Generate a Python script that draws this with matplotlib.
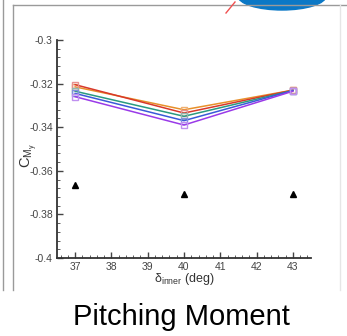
import matplotlib.pyplot as plt
from matplotlib.lines import Line2D
from matplotlib.patches import Ellipse
from matplotlib.ticker import MultipleLocator

# ── Data ─────────────────────────────────────────────────────────────
delta_inner = [37, 40, 43]
cm_orange = [-0.3215, -0.3320, -0.3230]
cm_red = [-0.3205, -0.3335, -0.3230]
cm_green = [-0.3235, -0.3350, -0.3232]
cm_blue = [-0.3245, -0.3370, -0.3232]
cm_purple = [-0.3260, -0.3390, -0.3235]
cm_ref = [-0.3665, -0.3705, -0.3705]

series = [
    (cm_orange, "#e8902a", "#f0b070"),
    (cm_red, "#d8382a", "#e89090"),
    (cm_green, "#2a9a80", "#90b8b0"),
    (cm_blue, "#3a5ad8", "#8090e0"),
    (cm_purple, "#9a3ae8", "#c090f0"),
]

plt.rcParams["font.family"] = ["Liberation Sans", "DejaVu Sans"]

W, H = 347, 336
fig = plt.figure(figsize=(W / 100, H / 100), dpi=100)
fig.patch.set_facecolor("white")

# ── Slide decorations (frame, blue blob) ─────────────────────────────
def fx(px):
    return px / W

def fy(py):
    return 1 - py / H

frame_col = "#9a9a9a"
fig.add_artist(Line2D([fx(3), fx(3)], [fy(0), fy(290)], color=frame_col, lw=1))
fig.add_artist(Line2D([fx(13), fx(13)], [fy(5), fy(290)], color=frame_col, lw=1))
fig.add_artist(Line2D([fx(13), fx(347)], [fy(5), fy(5)], color=frame_col, lw=1))
fig.add_artist(Line2D([fx(340), fx(340)], [fy(5), fy(290)], color="#e6e6e6", lw=1))
fig.add_artist(Ellipse((fx(282), fy(-4)), fx(88), 28 / H, color="#0b78c6",
                       transform=fig.transFigure))
fig.add_artist(Line2D([fx(226), fx(235)], [fy(13), fy(2)], color="#f05050", lw=1))

# ── Plot ─────────────────────────────────────────────────────────────
ax = fig.add_axes([57 / W, 1 - 258 / H, (311 - 57) / W, (258 - 40) / H])

for vals, line_col, mark_col in series:
    ax.plot(delta_inner, vals, color=line_col, lw=1.1, marker="s", ms=5,
            mfc="none", mec=mark_col, mew=1)
ax.plot(delta_inner, cm_ref, ls="none", marker="^", ms=5, color="black")

ax.set_xlim(36.5, 43.5)
ax.set_ylim(-0.4, -0.3)
ax.xaxis.set_major_locator(MultipleLocator(1))
ax.xaxis.set_minor_locator(MultipleLocator(0.2))
ax.yaxis.set_minor_locator(MultipleLocator(0.004))
ax.set_yticks([-0.4, -0.38, -0.36, -0.34, -0.32, -0.3])
ax.set_yticklabels(["-0.4", "-0.38", "-0.36", "-0.34", "-0.32", "-0.3"])

for side in ["top", "right"]:
    ax.spines[side].set_visible(False)
for side in ["left", "bottom"]:
    ax.spines[side].set_color("#333333")
    ax.spines[side].set_linewidth(1.3)

ax.tick_params(which="both", direction="in", colors="#444444", labelsize=7.5, pad=3)
ax.tick_params(which="major", length=4, width=1)
ax.tick_params(which="minor", length=2, width=0.6)

ax.set_xlabel(r"$\mathregular{\delta_{inner}}$ (deg)", fontsize=9, color="#333333", labelpad=-1)
ax.set_ylabel(r"$\mathregular{C_{M_y}}$", fontsize=10.5, color="#333333")
ax.yaxis.set_label_coords(-0.07, 0.47)

fig.text(181 / W, 1 - 325 / H, "Pitching Moment", fontsize=21, ha="center",
         va="baseline", color="black")

fig.savefig("out.png", dpi=100)
